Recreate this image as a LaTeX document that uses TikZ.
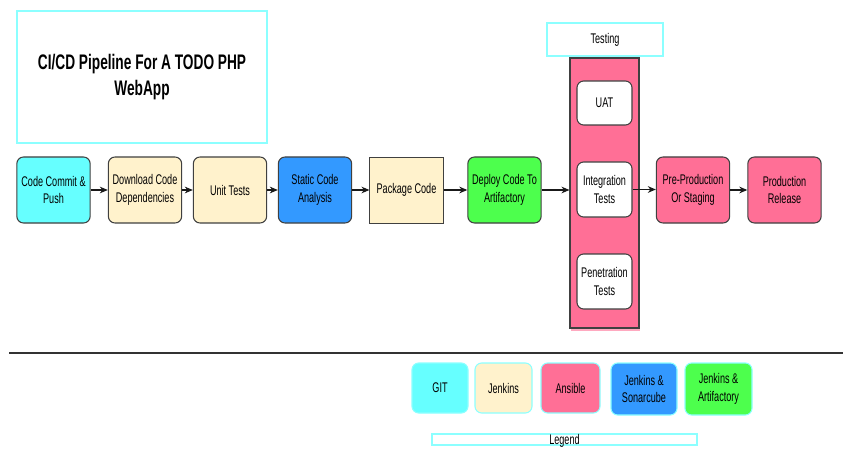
\documentclass[tikz,border=0pt]{standalone}
\usepackage{fontspec}
\setmainfont{Liberation Sans}[FakeStretch=0.65]
\usetikzlibrary{arrows.meta}
\definecolor{gitcyan}{HTML}{66FFFF}
\definecolor{jenkyellow}{HTML}{FFF2CC}
\definecolor{sonarblue}{HTML}{3399FF}
\definecolor{ansiblepink}{HTML}{FF6F96}
\definecolor{artigreen}{HTML}{4DFF4D}
\definecolor{framecyan}{HTML}{8CFFFF}
\begin{document}
\begin{tikzpicture}[x=0.75pt,y=-0.75pt,
  font=\fontsize{10.5}{13}\selectfont,
  stage/.style={draw=black!75, line width=0.8pt, rounded corners=5pt, align=center,
    minimum width=55pt, minimum height=49.5pt, inner sep=1pt},
  testbox/.style={stage, fill=white, minimum width=41.25pt, minimum height=41.25pt},
  legbox/.style={draw=framecyan, line width=0.8pt, rounded corners=5pt, align=center,
    minimum width=43pt, minimum height=37.5pt, inner sep=1pt},
  flow/.style={-{Stealth[length=6pt,width=5pt]}, line width=0.8pt, black!90}]
\useasboundingbox (0,0) rectangle (865,453);

% title
\node[draw=framecyan, line width=0.8pt, minimum width=187.5pt, minimum height=99pt, align=center,
  font=\fontsize{15.8}{19.5}\selectfont\bfseries] (title) at (142,77) {CI/CD Pipeline For A TODO PHP\\WebApp};

% pipeline stages
\node[stage, fill=gitcyan] (commit) at (53.5,190) {Code Commit \&\\Push};
\node[stage, fill=jenkyellow] (deps) at (145,190) {Download Code\\Dependencies};
\node[stage, fill=jenkyellow] (unit) at (230,190) {Unit Tests};
\node[stage, fill=sonarblue] (static) at (315,190) {Static Code\\Analysis};
\node[stage, fill=jenkyellow, rounded corners=0pt, line width=0.6pt] (package) at (406.5,190) {Package Code};
\node[stage, fill=artigreen] (deploy) at (504.5,190) {Deploy Code To\\Artifactory};

% testing group
\fill[ansiblepink!60] (571,327) rectangle (640,331);
\node[draw=black!75, line width=0.8pt, fill=ansiblepink, minimum width=51.75pt, minimum height=202.5pt] (testing) at (604.5,193) {};
\node[draw=framecyan, line width=0.8pt, minimum width=87pt, minimum height=24.75pt] (testlabel) at (605,39.5) {Testing};
\node[testbox, minimum height=33pt] (uat) at (604.5,103) {UAT};
\node[testbox] (integ) at (604.5,189.5) {Integration\\Tests};
\node[testbox] (pen) at (604.5,281.5) {Penetration\\Tests};

\node[stage, fill=ansiblepink] (preprod) at (693,190) {Pre-Production\\Or Staging};
\node[stage, fill=ansiblepink] (prod) at (784.5,190) {Production\\Release};

\draw[flow] (commit) -- (deps);
\draw[flow] (deps) -- (unit);
\draw[flow] (unit) -- (static);
\draw[flow] (static) -- (package);
\draw[flow] (package) -- (deploy);
\draw[flow] (deploy.east) -- (deploy.east -| testing.west);
\draw[flow] (integ.east) -- (integ.east -| preprod.west);
\draw[flow] (preprod) -- (prod);

% legend
\coordinate (sepL) at (9,353);
\coordinate (sepR) at (843,353);
\draw[line width=1pt, black!80] (sepL) -- (sepR);

\node[legbox, fill=gitcyan, minimum width=42pt] (lgit) at (440,388) {GIT};
\node[legbox, fill=jenkyellow, minimum width=42.75pt] (ljenkins) at (503.5,388) {Jenkins};
\node[legbox, fill=ansiblepink, minimum width=44.25pt] (lansible) at (570.5,388) {Ansible};
\node[legbox, fill=sonarblue, minimum width=49.5pt, minimum height=39pt] (lsonar) at (644,389) {Jenkins \&\\Sonarcube};
\node[legbox, fill=artigreen, minimum width=50.25pt, minimum height=39pt] (lartifact) at (718.5,389) {Jenkins \&\\Artifactory};
\node[draw=framecyan, line width=0.8pt, minimum width=198.75pt, minimum height=8.25pt, inner sep=0pt] (legend) at (564.5,439.5) {};
\node (legendtext) at ([yshift=-1pt]legend.center) {Legend};
\end{tikzpicture}
\end{document}
